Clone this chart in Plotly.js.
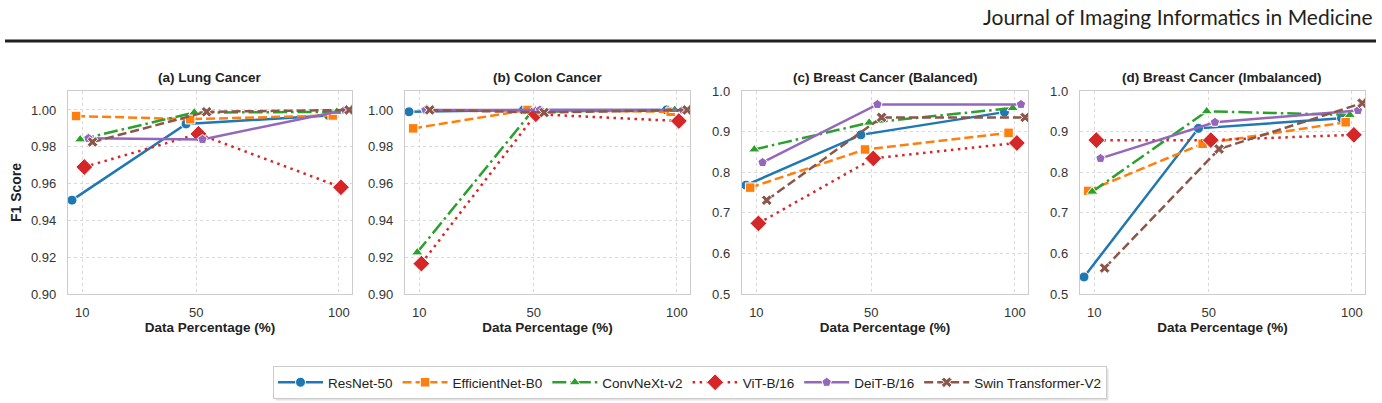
<!DOCTYPE html>
<html><head><meta charset="utf-8">
<script src="https://cdn.plot.ly/plotly-3.0.1.min.js"></script>
<style>html,body{margin:0;padding:0;background:#fff;} #chart{width:1382px;height:403px;}</style>
</head><body><div id="chart"></div>
<script>
// ---- data ----
const dataPercentages = [10, 50, 100];
const modelNames = ['ResNet-50', 'EfficientNet-B0', 'ConvNeXt-v2', 'ViT-B/16', 'DeiT-B/16', 'Swin Transformer-V2'];
const panelTitles = ['(a) Lung Cancer', '(b) Colon Cancer', '(c) Breast Cancer (Balanced)', '(d) Breast Cancer (Imbalanced)'];

// rows follow modelNames, columns follow dataPercentages
const lungF1 = [
  [0.951, 0.9924, 0.997],
  [0.9967, 0.995, 0.997],
  [0.984, 0.9986, 0.999],
  [0.969, 0.987, 0.958],
  [0.9846, 0.984, 1.000],
  [0.9826, 0.999, 1.000]
];
const colonF1 = [
  [0.999, 1.000, 1.000],
  [0.990, 1.000, 0.999],
  [0.9226, 0.999, 1.000],
  [0.9165, 0.9977, 0.994],
  [1.000, 1.000, 1.000],
  [1.000, 0.9986, 1.000]
];
const breastBalancedF1 = [
  [0.768, 0.892, 0.948],
  [0.762, 0.856, 0.897],
  [0.856, 0.922, 0.958],
  [0.674, 0.834, 0.872],
  [0.824, 0.967, 0.967],
  [0.731, 0.935, 0.935]
];
const breastImbalancedF1 = [
  [0.542, 0.908, 0.933],
  [0.754, 0.870, 0.923],
  [0.752, 0.950, 0.941],
  [0.879, 0.879, 0.892],
  [0.834, 0.923, 0.952],
  [0.564, 0.857, 0.970]
];
const yTicksFine = [0.90, 0.92, 0.94, 0.96, 0.98, 1.00];
const yTicksCoarse = [0.5, 0.6, 0.7, 0.8, 0.9, 1.0];

// ---- styles ----
const colors = ['#1f77b4', '#ff7f0e', '#2ca02c', '#d62728', '#9467bd', '#8c564b'];
const dashes = ['solid', '9px,4px', '14px,4px,2.5px,4px', '2.5px,4.5px', 'solid', '9px,4px'];
const symbols = ['circle', 'square', 'triangle-up', 'diamond', 'pentagon', 'x'];
const msizes = [10, 9.5, 10, 13, 10, 9.5];
const dodge = [-3.6, -2.16, -0.72, 0.72, 2.16, 3.6];

const W = 1382, H = 403;
const px = v => v / W, py = v => 1 - v / H;
const panelX = [[68, 352], [405, 690], [742, 1028], [1080, 1365]];
const panelTop = 91, panelBottom = 294;
const panelData = [lungF1, colonF1, breastBalancedF1, breastImbalancedF1];

const traces = [];
panelData.forEach((scores, p) => {
  scores.forEach((row, s) => {
    traces.push({
      type: 'scatter', mode: 'lines+markers',
      x: dataPercentages.map(v => v + dodge[s]),
      y: row,
      name: modelNames[s],
      legendgroup: modelNames[s],
      showlegend: p === 0,
      xaxis: p === 0 ? 'x' : 'x' + (p + 1),
      yaxis: p === 0 ? 'y' : 'y' + (p + 1),
      line: {color: colors[s], width: 2.5, dash: dashes[s]},
      marker: {symbol: symbols[s], size: msizes[s], color: colors[s], line: {color: '#ffffff', width: 1}}
    });
  });
});

const fontFam = 'Liberation Sans, Arial, sans-serif';
const layout = {
  width: W, height: H,
  margin: {l: 0, r: 0, t: 0, b: 0},
  paper_bgcolor: '#ffffff', plot_bgcolor: '#ffffff',
  font: {family: fontFam, size: 12, color: '#333'},
  showlegend: true,
  legend: {
    orientation: 'h', x: px(690), xanchor: 'center', y: py(366), yanchor: 'top',
    bgcolor: '#ffffff', bordercolor: '#cccccc', borderwidth: 1,
    itemwidth: 45,
    font: {family: fontFam, size: 13.5, color: '#222'}
  },
  annotations: [
    {text: 'Journal of Imaging Informatics in Medicine', xref: 'paper', yref: 'paper',
     x: px(1375), y: py(16), xanchor: 'right', yanchor: 'middle', showarrow: false,
     font: {family: 'Lato, Open Sans, sans-serif', size: 21, color: '#231f20'}}
  ],
  shapes: [
    {type: 'line', xref: 'paper', yref: 'paper', x0: px(5), x1: px(1376), y0: py(41), y1: py(41),
     line: {color: '#231f20', width: 3}}
  ]
};

panelX.forEach((xr, p) => {
  const xk = p === 0 ? 'xaxis' : 'xaxis' + (p + 1);
  const yk = p === 0 ? 'yaxis' : 'yaxis' + (p + 1);
  const fine = p < 2;
  layout[xk] = {
    domain: [px(xr[0]), px(xr[1])],
    anchor: p === 0 ? 'y' : 'y' + (p + 1),
    range: [5, 104.6],
    tickmode: 'array', tickvals: dataPercentages, ticktext: dataPercentages.map(String),
    showgrid: true, gridcolor: '#d9d9d9', griddash: 'dot', gridwidth: 1,
    showline: true, mirror: true, linecolor: '#cccccc', linewidth: 1.2,
    zeroline: false, ticks: '', ticklabelstandoff: 6,
    tickfont: {family: fontFam, size: 13, color: '#333'},
    title: {text: 'Data Percentage (%)', standoff: 3,
            font: {family: fontFam, size: 13.5, color: '#222', weight: 'bold'}}
  };
  const yt = fine ? yTicksFine : yTicksCoarse;
  layout[yk] = {
    domain: [py(panelBottom), py(panelTop)],
    anchor: p === 0 ? 'x' : 'x' + (p + 1),
    range: fine ? [0.9, 1.0103] : [0.5, 1.0],
    tickmode: 'array', tickvals: yt, ticktext: yt.map(v => v.toFixed(fine ? 2 : 1)),
    showgrid: true, gridcolor: '#d9d9d9', griddash: 'dot', gridwidth: 1,
    showline: true, mirror: true, linecolor: '#cccccc', linewidth: 1.2,
    zeroline: false, ticks: '', ticklabelstandoff: 8,
    tickfont: {family: fontFam, size: 13, color: '#333'},
    title: p === 0 ? {text: 'F1 Score', standoff: 6,
            font: {family: fontFam, size: 14, color: '#222', weight: 'bold'}} : {text: ''}
  };
  layout.annotations.push({
    text: panelTitles[p], xref: 'paper', yref: 'paper',
    x: (px(xr[0]) + px(xr[1])) / 2, y: py(77), xanchor: 'center', yanchor: 'middle',
    showarrow: false, font: {family: fontFam, size: 13.5, color: '#222', weight: 'bold'}
  });
});

const gd = document.getElementById('chart');
Plotly.newPlot(gd, traces, layout, {displayModeBar: false, staticPlot: true}).then(() => {
  // soft drop shadow behind the legend box, sized from the rendered legend
  const bg = gd.querySelector('.legend .bg');
  if (!bg) return;
  const r = bg.getBoundingClientRect(), c = gd.getBoundingClientRect();
  const x0 = r.left - c.left + 2, x1 = r.right - c.left + 2;
  const y0 = r.top - c.top + 2, y1 = r.bottom - c.top + 2;
  const shapes = layout.shapes.concat([{
    type: 'rect', xref: 'paper', yref: 'paper', x0: px(x0), x1: px(x1), y0: py(y1), y1: py(y0),
    line: {width: 0}, fillcolor: '#e2e2e2', layer: 'below'
  }]);
  return Plotly.relayout(gd, {shapes: shapes});
});
</script></body></html>
